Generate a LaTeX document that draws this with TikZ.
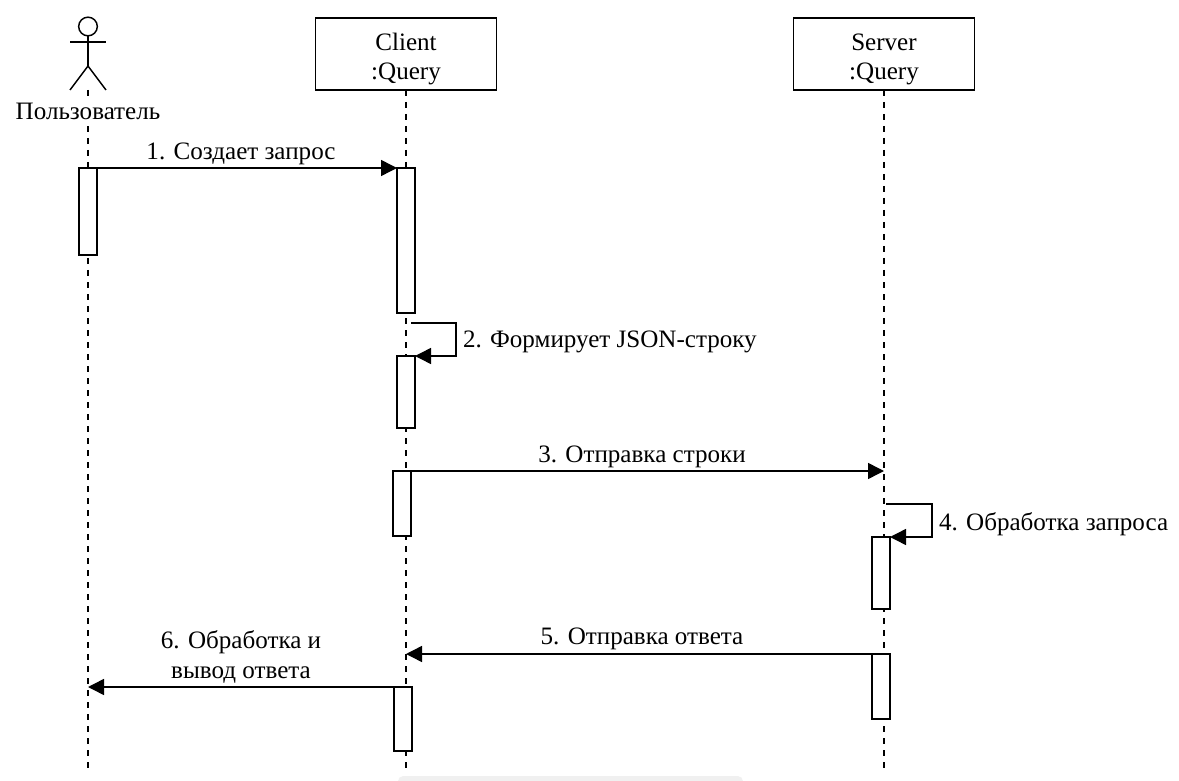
\documentclass[tikz,border=0pt]{standalone}
\usepackage{fontspec}
\setmainfont{Liberation Serif}
\usetikzlibrary{arrows.meta}
\tikzset{
  x=0.75pt,y=-0.75pt,
  every node/.style={font=\fontsize{18.8}{22.3}\selectfont,inner sep=0pt,outer sep=0pt},
  objbox/.style={draw=black,fill=white,line width=1.2pt,minimum width=136pt,minimum height=54pt,align=center},
  actbox/.style={draw=black,fill=white,line width=1.1pt,minimum width=13.5pt},
  life/.style={draw=black,line width=1pt,dash pattern=on 4.5pt off 4.5pt},
  msg/.style={draw=black,line width=1.1pt,-{Triangle[length=12pt,width=12pt]}},
  actorline/.style={draw=black,line width=1.1pt},
  lbl/.style={align=center,text=black}
}
\begin{document}
\begin{tikzpicture}
\useasboundingbox (0,0) rectangle (1179,781);
\fill[white] (0,0) rectangle (1179,781);
\begin{scope}
\clip (0,0) rectangle (1179,781);
\fill[black!6,rounded corners=4pt] (398,776) rectangle (743,800);
\end{scope}
% lifeline ends
\coordinate (uTop) at (88,90);
\coordinate (uEnd) at (88,770);
\coordinate (cEnd) at (406,770);
\coordinate (sEnd) at (884,770);
% objects
\node[objbox] (client) at (406,54) {\rule{0pt}{20.5pt}Client\\:Query};
\node[objbox] (server) at (884,54) {\rule{0pt}{20.5pt}Server\\:Query};
% lifelines
\draw[life] (uTop) -- (uEnd);
\draw[life] (client.south) -- (cEnd);
\draw[life] (server.south) -- (sEnd);
% actor
\node[draw=black,line width=1.1pt,circle,minimum size=14pt,fill=white] (head) at (88,26.5) {};
\coordinate (hip) at (88,66);
\coordinate (armL) at (70,42);
\coordinate (armR) at (106,42);
\coordinate (legL) at (70,90);
\coordinate (legR) at (106,90);
\draw[actorline] (head.south) -- (hip);
\draw[actorline] (armL) -- (armR);
\draw[actorline] (legL) -- (hip) -- (legR);
\node[lbl,fill=white,minimum height=22pt] (user) at (88,111) {Пользователь};
% activations
\node[actbox,minimum height=65.25pt] (a1) at (88,211.5) {};
\node[actbox,minimum height=108.75pt] (c1) at (406,240.5) {};
\node[actbox,minimum height=54pt] (c2) at (406,392) {};
\node[actbox,minimum height=48.75pt] (c3) at (402,503.5) {};
\node[actbox,minimum height=48pt] (c4) at (403,719) {};
\node[actbox,minimum height=54pt] (s1) at (881,573) {};
\node[actbox,minimum height=48.75pt] (s2) at (881,686.5) {};
% messages
\coordinate (u1) at (88,168);
\coordinate (c2s) at (411,323);
\coordinate (c2r) at (456,323);
\coordinate (c2b) at (456,356);
\coordinate (s3) at (884,471);
\coordinate (s4s) at (886,504);
\coordinate (s4r) at (932,504);
\coordinate (s4b) at (932,537);
\coordinate (s5) at (884,654);
\coordinate (c5) at (406,654);
\coordinate (u6) at (88,687);
\draw[msg] (u1) -- (c1.north west);
\draw[msg] (c2s) -- (c2r) -- (c2b) -- (c2.north east);
\draw[msg] (c3.north east) -- (s3);
\draw[msg] (s4s) -- (s4r) -- (s4b) -- (s1.north east);
\draw[msg] (s5) -- (c5);
\draw[msg] (c4.north west) -- (u6);
% labels
\node[lbl] (l1) at (241,154) {1. Создает запрос};
\node[lbl,anchor=west] (l2) at (463,342) {2. Формирует JSON-строку};
\node[lbl] (l3) at (642,457) {3. Отправка строки};
\node[lbl,anchor=west] (l4) at (939,524) {4. Обработка запроса};
\node[lbl] (l5) at (642,639) {5. Отправка ответа};
\node[lbl] (l6) at (241,657) {6. Обработка и\\вывод ответа};
\end{tikzpicture}
\end{document}
